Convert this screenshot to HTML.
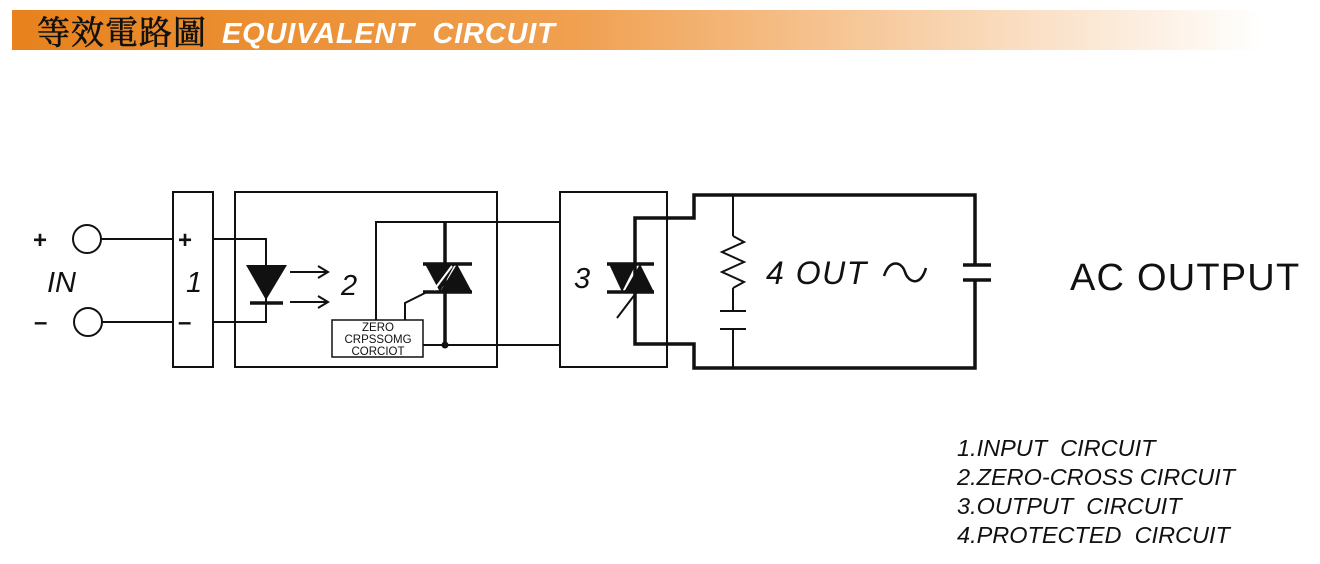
<!DOCTYPE html>
<html><head><meta charset="utf-8"><style>
html,body{margin:0;padding:0;background:#fff;width:1320px;height:564px;overflow:hidden}
text{white-space:pre}
</style></head><body>
<svg width="1320" height="564" viewBox="0 0 1320 564" xmlns="http://www.w3.org/2000/svg" xml:space="preserve">
<defs><linearGradient id="g" x1="0" x2="1"><stop offset="0" stop-color="#e7821c"/><stop offset="0.45" stop-color="#f0a050"/><stop offset="1" stop-color="#ffffff"/></linearGradient></defs>
<rect x="12" y="10" width="1250" height="40" fill="url(#g)"/>
<text x="37" y="44" font-family="Noto Serif CJK SC, serif" font-size="33" fill="#111" stroke="#111" stroke-width="0.6" letter-spacing="1">等效電路圖</text>
<text x="222" y="43" font-family="Liberation Sans, sans-serif" font-size="29" font-weight="bold" font-style="italic" fill="#fff" letter-spacing="0.8">EQUIVALENT  CIRCUIT</text>

<g fill="none" stroke="#111" stroke-width="2">
<circle cx="87" cy="239" r="14"/><circle cx="88" cy="322" r="14"/>
<line x1="101" y1="239" x2="173" y2="239"/><line x1="102" y1="322" x2="173" y2="322"/>
<rect x="173" y="192" width="40" height="175"/>
<rect x="235" y="192" width="262" height="175"/>
<rect x="560" y="192" width="107" height="175"/>
<polyline points="213,239 266,239 266,322 213,322"/>
<polyline points="376,320 376,222 560,222"/>
<line x1="423" y1="345" x2="560" y2="345"/>
<polyline points="405,320 405,303 425,293"/>
<line x1="290" y1="272" x2="328" y2="272"/><polyline points="318,266 328,272 318,278"/>
<line x1="290" y1="302" x2="328" y2="302"/><polyline points="318,296 328,302 318,308"/>
<line x1="733" y1="195" x2="733" y2="236"/>
<polyline points="733,236 744,242 722,252 744,262 722,272 744,282 733,288"/>
<line x1="733" y1="288" x2="733" y2="311"/>
<line x1="720" y1="311" x2="746" y2="311"/><line x1="720" y1="329" x2="746" y2="329"/>
<line x1="733" y1="329" x2="733" y2="368"/>
<path d="M884,276 C890,258 902,262 905,272 C908,282 920,288 926,268" stroke-width="2.5"/>
</g>
<g stroke="#111" stroke-width="3.5" fill="none">
<line x1="445" y1="222" x2="445" y2="345"/>
<line x1="423" y1="264" x2="472" y2="264"/>
<line x1="423" y1="292" x2="472" y2="292"/>
<polyline points="667,218 694,218 694,195 975,195 975,265"/>
<polyline points="975,280 975,368 694,368 694,344 667,344"/>
<polyline points="667,218 635,218 635,344 667,344"/>
<line x1="607" y1="264" x2="654" y2="264"/>
<line x1="607" y1="292" x2="654" y2="292"/>
<line x1="963" y1="265" x2="991" y2="265"/><line x1="963" y1="280" x2="991" y2="280"/>
<line x1="250" y1="303" x2="283" y2="303"/>
</g>
<g fill="#111">
<polygon points="246,265 287,265 266,300"/>
<polygon points="425,264 455,264 440,292"/>
<polygon points="440,292 472,292 457,264"/>
<polygon points="609,264 636,264 622,292"/>
<polygon points="624,292 654,292 640,264"/>
<circle cx="445" cy="345" r="3.5"/>
</g>
<line x1="434" y1="290" x2="452" y2="266" stroke="#fff" stroke-width="2"/>
<line x1="617" y1="318" x2="642" y2="285" stroke="#111" stroke-width="2"/>
<rect x="332" y="320" width="91" height="37" fill="#fff" stroke="#111" stroke-width="1.5"/>
<g font-family="Liberation Sans, sans-serif" font-size="11.5" text-anchor="middle" fill="#111">
<text x="378" y="331">ZERO</text><text x="378" y="343">CRPSSOMG</text><text x="378" y="355">CORCIOT</text>
</g>
<g font-family="Liberation Sans, sans-serif" fill="#111">
<text x="33" y="248" font-size="24" font-weight="bold">+</text>
<text x="34" y="330" font-size="24" font-weight="bold">–</text>
<text x="178" y="248" font-size="24" font-weight="bold">+</text>
<text x="178" y="330" font-size="24" font-weight="bold">–</text>
<text x="47" y="292" font-size="29" font-style="italic">IN</text>
<text x="186" y="292" font-size="29" font-style="italic">1</text>
<text x="341" y="295" font-size="29" font-style="italic">2</text>
<text x="574" y="288" font-size="29" font-style="italic">3</text>
<text x="766" y="284" font-size="32" font-style="italic" letter-spacing="1.5">4 OUT</text>
<text x="1070" y="290" font-size="38" letter-spacing="1.2">AC OUTPUT</text>
<g font-size="23.5" font-style="italic">
<text x="957" y="456">1.INPUT  CIRCUIT</text>
<text x="957" y="485">2.ZERO-CROSS CIRCUIT</text>
<text x="957" y="514">3.OUTPUT  CIRCUIT</text>
<text x="957" y="543">4.PROTECTED  CIRCUIT</text>
</g>
</g>
</svg>
</body></html>
